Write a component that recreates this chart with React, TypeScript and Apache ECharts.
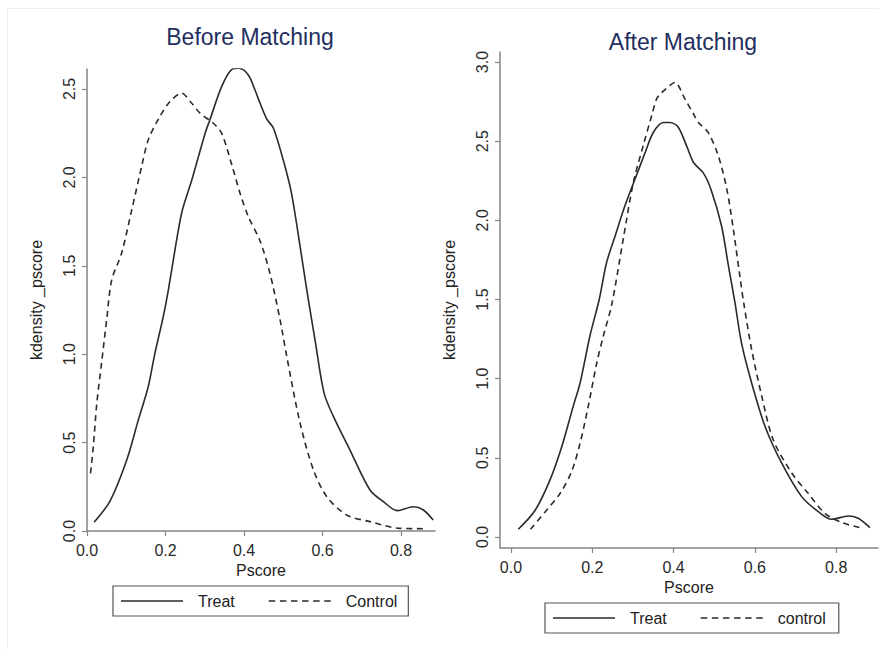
import React, { useEffect, useRef } from "react";
import * as echarts from "echarts";

const FONT = '"Liberation Sans", Arial, Helvetica, sans-serif';

// Tick values
const xTicks = [0, 0.2, 0.4, 0.6, 0.8];
const yTicksBefore = [0, 0.5, 1.0, 1.5, 2.0, 2.5];
const yTicksAfter = [0, 0.5, 1.0, 1.5, 2.0, 2.5, 3.0];

// [pscore, density]
const beforeTreat: [number, number][] = [
  [0.018, 0.049], [0.059, 0.171], [0.101, 0.40], [0.131, 0.63], [0.156, 0.816],
  [0.173, 1.005], [0.194, 1.21], [0.207, 1.36], [0.241, 1.797], [0.267, 1.985],
  [0.301, 2.25], [0.313, 2.325], [0.343, 2.513], [0.369, 2.611], [0.387, 2.617],
  [0.411, 2.579], [0.428, 2.494], [0.441, 2.419], [0.458, 2.33], [0.475, 2.278],
  [0.50, 2.098], [0.521, 1.91], [0.543, 1.608], [0.560, 1.363], [0.581, 1.08],
  [0.604, 0.78], [0.628, 0.647], [0.670, 0.458], [0.721, 0.232], [0.755, 0.166],
  [0.791, 0.115], [0.831, 0.137], [0.857, 0.119], [0.882, 0.062],
];

const beforeControl: [number, number][] = [
  [0.009, 0.326], [0.016, 0.477], [0.025, 0.722], [0.037, 0.948], [0.050, 1.193],
  [0.063, 1.42], [0.088, 1.571], [0.114, 1.816], [0.139, 2.06], [0.156, 2.212],
  [0.182, 2.33], [0.211, 2.428], [0.241, 2.476], [0.267, 2.419], [0.288, 2.363],
  [0.322, 2.306], [0.343, 2.25], [0.369, 2.07], [0.390, 1.91], [0.411, 1.778],
  [0.441, 1.64], [0.466, 1.458], [0.492, 1.193], [0.509, 0.986], [0.543, 0.609],
  [0.577, 0.345], [0.611, 0.194], [0.662, 0.090], [0.721, 0.053], [0.797, 0.015],
  [0.861, 0.013],
];

const afterTreat: [number, number][] = [
  [0.018, 0.049], [0.059, 0.167], [0.096, 0.361], [0.125, 0.572], [0.153, 0.825],
  [0.170, 0.973], [0.194, 1.268], [0.217, 1.5], [0.235, 1.732], [0.256, 1.90],
  [0.280, 2.09], [0.305, 2.26], [0.330, 2.428], [0.350, 2.555], [0.375, 2.618],
  [0.391, 2.618], [0.411, 2.59], [0.432, 2.47], [0.449, 2.365], [0.473, 2.30],
  [0.492, 2.195], [0.518, 1.964], [0.535, 1.711], [0.551, 1.48], [0.567, 1.226],
  [0.592, 0.973], [0.625, 0.698], [0.666, 0.466], [0.715, 0.255], [0.756, 0.160],
  [0.789, 0.112], [0.830, 0.133], [0.854, 0.118], [0.883, 0.059],
];

const afterControl: [number, number][] = [
  [0.048, 0.049], [0.088, 0.171], [0.121, 0.276], [0.149, 0.413], [0.170, 0.593],
  [0.190, 0.825], [0.211, 1.099], [0.227, 1.268], [0.248, 1.47], [0.276, 1.88],
  [0.301, 2.239], [0.325, 2.47], [0.346, 2.66], [0.358, 2.766], [0.367, 2.797],
  [0.383, 2.835], [0.403, 2.871], [0.428, 2.766], [0.449, 2.671], [0.461, 2.618],
  [0.485, 2.555], [0.510, 2.407], [0.531, 2.196], [0.547, 1.943], [0.563, 1.647],
  [0.573, 1.47], [0.592, 1.184], [0.617, 0.888], [0.645, 0.614], [0.691, 0.403],
  [0.731, 0.276], [0.772, 0.150], [0.814, 0.091], [0.859, 0.059],
];

const AXIS_COLOR = "#858585";
const LINE_COLOR = "#2a2a2a";
const TITLE_COLOR = "#1f2f5f";

const SOLID_ICON = "path://M0,0h62v1.6h-62z";
const DASH_ICON =
  "path://M0,0h6.5v1.6h-6.5zM11.1,0h6.5v1.6h-6.5zM22.2,0h6.5v1.6h-6.5zM33.3,0h6.5v1.6h-6.5zM44.4,0h6.5v1.6h-6.5zM55.5,0h6.5v1.6h-6.5z";

function xAxisDef(gridIndex: number, min: number, max: number) {
  return {
    type: "value",
    gridIndex,
    min,
    max,
    name: "Pscore",
    nameLocation: "middle",
    nameGap: 28,
    nameTextStyle: { fontFamily: FONT, fontSize: 16, color: "#222" },
    axisLine: { onZero: false, lineStyle: { color: AXIS_COLOR, width: 1.5 } },
    axisTick: { customValues: xTicks, length: 5, lineStyle: { color: AXIS_COLOR, width: 1.2 } },
    axisLabel: {
      customValues: xTicks,
      margin: 11,
      fontFamily: FONT,
      fontSize: 16,
      color: "#2a2a2a",
      formatter: (v: number) => v.toFixed(1),
    },
    splitLine: { show: false },
  };
}

function yAxisDef(gridIndex: number, min: number, max: number, ticks: number[]) {
  return {
    type: "value",
    gridIndex,
    min,
    max,
    name: "kdensity _pscore",
    nameLocation: "middle",
    nameRotate: 90,
    nameGap: 43,
    nameTextStyle: { fontFamily: FONT, fontSize: 16, color: "#222" },
    axisLine: { show: true, onZero: false, lineStyle: { color: AXIS_COLOR, width: 1.5 } },
    axisTick: { show: true, customValues: ticks, length: 5, lineStyle: { color: AXIS_COLOR, width: 1.2 } },
    axisLabel: {
      customValues: ticks,
      rotate: 90,
      margin: 10,
      fontFamily: FONT,
      fontSize: 16,
      color: "#2a2a2a",
      formatter: (v: number) => v.toFixed(1),
    },
    splitLine: { show: false },
  };
}

function lineSeries(name: string, data: [number, number][], idx: number, dashed: boolean) {
  return {
    type: "line",
    name,
    data,
    xAxisIndex: idx,
    yAxisIndex: idx,
    symbol: "none",
    smooth: 0.3,
    lineStyle: { color: LINE_COLOR, width: 1.6, type: dashed ? [6, 4.5] : "solid" },
    itemStyle: { color: LINE_COLOR },
  };
}

function legendDef(left: number, top: number, names: string[], rightPad: number) {
  return {
    left,
    top,
    orient: "horizontal",
    data: names.map((n, i) => ({
      name: n,
      icon: i === 0 ? SOLID_ICON : DASH_ICON,
      itemStyle: { color: LINE_COLOR, borderWidth: 0 },
    })),
    itemWidth: 62,
    itemHeight: 1.6,
    itemGap: 34,
    padding: [7, rightPad, 7, 8],
    borderColor: "#555",
    borderWidth: 1.2,
    borderRadius: 0,
    selectedMode: false,
    textStyle: {
      fontFamily: FONT,
      fontSize: 16,
      lineHeight: 16,
      color: "#222",
      padding: [0, 0, 0, 10],
    },
  };
}

export default function App() {
  const ref = useRef<HTMLDivElement>(null);

  useEffect(() => {
    if (!ref.current) return;
    const chart = echarts.init(ref.current, undefined, { renderer: "svg" });
    const option: any = {
      animation: false,
      backgroundColor: "#ffffff",
      grid: [
        { left: 87, top: 69, width: 348, height: 462 },
        { left: 500, top: 52, width: 378, height: 496 },
      ],
      xAxis: [xAxisDef(0, 0, 0.8866), xAxisDef(1, -0.02706, 0.90283)],
      yAxis: [
        yAxisDef(0, 0, 2.613, yTicksBefore),
        yAxisDef(1, -0.0695, 3.0632, yTicksAfter),
      ],
      legend: [
        legendDef(113, 586, ["Treat", "Control"], 11),
        legendDef(545, 603, ["Treat", "control"], 13),
      ],
      series: [
        lineSeries("Treat", beforeTreat, 0, false),
        lineSeries("Control", beforeControl, 0, true),
        lineSeries("Treat", afterTreat, 1, false),
        lineSeries("control", afterControl, 1, true),
      ],
      graphic: [
        {
          type: "rect",
          silent: true,
          z: -10,
          shape: { x: 7.5, y: 8.5, width: 900, height: 700 },
          style: { fill: "none", stroke: "#ededed", lineWidth: 1 },
        },
        {
          type: "text",
          x: 250,
          y: 37,
          style: {
            text: "Before Matching",
            fontFamily: FONT,
            fontSize: 23,
            fill: TITLE_COLOR,
            align: "center",
            verticalAlign: "middle",
          },
        },
        {
          type: "text",
          x: 683,
          y: 42,
          style: {
            text: "After Matching",
            fontFamily: FONT,
            fontSize: 23,
            fill: TITLE_COLOR,
            align: "center",
            verticalAlign: "middle",
          },
        },
      ],
    };
    chart.setOption(option);
    return () => chart.dispose();
  }, []);

  return (
    <div
      ref={ref}
      style={{ position: "fixed", left: 0, top: 0, width: 879, height: 649, background: "#fff" }}
    />
  );
}
